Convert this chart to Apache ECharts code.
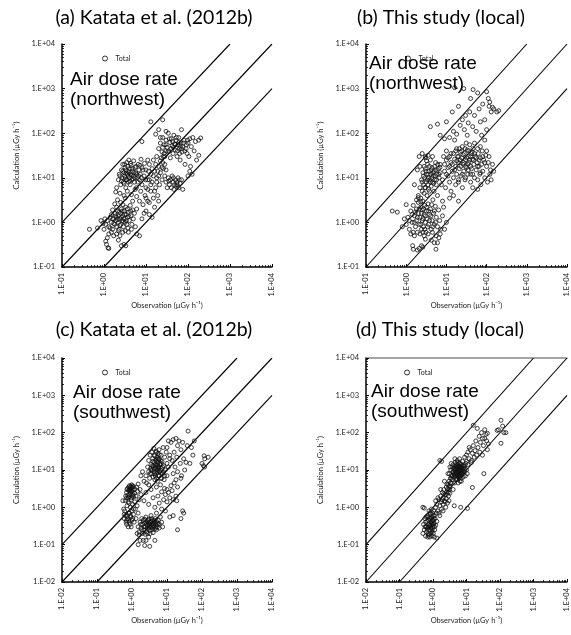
<!DOCTYPE html>
<html>
<head>
<meta charset="utf-8">
<script src="https://cdn.jsdelivr.net/npm/echarts@6/dist/echarts.min.js"></script>
<style>
html,body{margin:0;padding:0;background:#fff;}
#chart{width:571px;height:635px;}
</style>
</head>
<body>
<div id="chart"></div>
<script>
// ---------- Panel titles and annotations ----------
const panelTitles = ['(a) Katata et al. (2012b)', '(b) This study (local)', '(c) Katata et al. (2012b)', '(d) This study (local)'];
const annotations = ['Air dose rate\n(northwest)', 'Air dose rate\n(northwest)', 'Air dose rate\n(southwest)', 'Air dose rate\n(southwest)'];
const seriesName = 'Total';
const xAxisName = 'Observation (\u00b5Gy h\u207b\u00b9)';
const yAxisName = 'Calculation (\u00b5Gy h\u207b\u00b9)';

// tick labels
const tickLabelsTop = ['1.E-01', '1.E+00', '1.E+01', '1.E+02', '1.E+03', '1.E+04'];
const tickLabelsBottom = ['1.E-02', '1.E-01', '1.E+00', '1.E+01', '1.E+02', '1.E+03', '1.E+04'];

// reference lines (1:1, 10x, 1/10x)
const ref11Top = [[0.1, 0.1], [10000, 10000]];
const ref10Top = [[0.1, 1], [1000, 10000]];
const ref01Top = [[1, 0.1], [10000, 1000]];
const ref11Bottom = [[0.01, 0.01], [10000, 10000]];
const ref10Bottom = [[0.01, 0.1], [1000, 10000]];
const ref01Bottom = [[0.1, 0.01], [10000, 1000]];

// (a) Katata et al. northwest [observation, calculation]
const dataA = [
[1.1,0.9],[1.2,1.1],[1.3,0.8],[1.4,1.3],[1.5,1.0],[1.5,1.5],[1.6,0.7],[1.7,1.2],[1.8,0.9],[1.8,1.6],[1.9,1.1],[2.0,1.3],[2.0,0.8],[2.1,1.8],[2.2,1.0],[2.2,1.4],[2.3,0.7],[2.4,1.2],[2.5,1.6],[2.5,0.9],[2.6,2.0],[2.7,1.1],[2.8,1.4],[2.9,0.8],[3.0,1.2],[3.0,1.8],[3.2,1.0],[3.3,2.2],[3.4,1.5],[3.5,0.9],[3.6,1.3],[3.8,1.7],[4.0,1.1],[4.2,2.4],[4.4,1.4],[4.6,0.9],[4.8,1.9],[5.0,1.2],[5.3,1.6],[5.6,0.8],
[1.3,0.55],[1.5,0.6],[1.7,0.5],[2.0,0.55],[2.4,0.5],[2.8,0.6],[3.2,0.65],[3.8,0.6],[4.5,0.7],[1.2,0.45],[1.1,0.38],[1.15,0.32],[1.3,0.26],[1.25,0.27],[2.6,0.3],[3.0,0.32],[3.3,0.3],[2.2,0.4],[6.0,0.55],[7.0,0.5],
[0.45,0.7],[0.7,0.75],[0.85,1.1],[0.95,0.95],[1.0,0.7],[1.05,1.2],
[1.6,1.9],[1.7,0.95],[1.9,1.4],[2.1,1.15],[2.3,1.7],[2.4,0.85],[2.6,1.3],[2.7,1.8],[2.9,1.05],[3.1,1.5],[3.4,1.1],[3.7,0.75],[3.9,1.35],[4.3,1.8],[2.0,2.2],[1.4,0.75],[1.6,1.2],[2.8,2.5],[3.6,2.0],[2.2,0.65],
[2.0,6],[2.2,9],[2.3,12],[2.5,7],[2.6,15],[2.7,10],[2.8,20],[2.9,8],[3.0,13],[3.1,11],[3.2,17],[3.3,6],[3.4,9],[3.5,22],[3.6,12],[3.7,14],[3.8,8],[3.9,25],[4.0,10],[4.1,16],[4.2,7],[4.3,12],[4.4,19],[4.6,9],[4.8,14],[5.0,11],[5.1,24],[5.3,8],[5.5,17],[5.7,13],[5.9,6],[6.2,10],[6.5,20],[6.8,15],[7.0,9],[7.3,12],[7.6,26],[8.0,17],[2.4,4.5],[3.0,4.0],[3.6,5.0],[1.9,4.8],[2.1,3.2],[2.5,2.8],[3.2,3.5],[4.5,4.2],[4.8,3.0],[5.5,5.5],[6.0,3.8],[1.8,2.6],
[2.4,11],[2.6,8.5],[2.8,14],[3.0,7.5],[3.2,10],[3.3,15],[3.4,12.5],[3.5,9],[3.7,18],[3.8,11],[4.0,13],[4.1,8.5],[4.3,21],[4.5,11.5],[4.7,16],[4.9,9.5],[5.2,13],[5.4,10],[5.8,18],[6.0,12],[6.4,8],[6.7,11],[7.2,19],[7.8,10],[8.5,15],[9.2,21],[9.8,9],[11,25],[11.5,14],[3.1,20],
[6,2.0],[7,3.0],[7.5,5],[8,7],[8.5,2.5],[9,11],[9.5,4],[10,15],[10,6],[11,9],[11,3],[12,20],[12,1.5],[13,12],[13,5],[14,8],[15,25],[15,3.5],[16,14],[17,6],[18,30],[18,10],[19,4],[20,18],[21,7],[22,13],[23,28],[24,9],[25,22],[26,16],[27,35],[28,11],[30,40],[14,1.3],[10,1.8],[8,1.2],[16,2.2],[12,2.8],[9,1.6],[20,3],
[10,3.5],[11,5.5],[12,9],[13,7],[14,16],[15,11],[16,5],[17,20],[18,8],[19,14],[20,11],[22,24],[24,17],[26,30],[28,20],[30,15],
[20,45],[22,60],[24,38],[25,80],[27,55],[28,30],[30,70],[32,48],[34,100],[35,40],[37,62],[38,28],[40,75],[42,52],[44,35],[46,90],[48,58],[50,42],[52,68],[55,30],[58,55],[60,80],[62,45],[65,25],[68,60],[70,120],[72,38],[75,50],[80,70],[85,20],[90,45],[95,35],[100,60],[105,30],[110,75],[115,18],[120,50],[130,80],[140,40],[150,65],[160,25],[180,70],[200,78],[180,32],[125,12],
[25,48],[30,55],[33,38],[36,75],[39,45],[43,65],[45,48],[50,55],[53,80],[56,40],[60,62],[63,35],[66,50],[70,45],[78,60],[84,40],[92,55],[98,70],
[30,8],[32,6],[34,10],[36,7],[38,9],[40,6],[42,11],[44,8],[46,5.5],[48,7],[50,9],[52,6.5],[55,8],[58,10],[60,6],[65,7.5],[70,9],[75,5.5],[100,11],[110,14],[35,8.5],[45,10],[55,7],[62,9],
[13,180],[25,200],[20,120],[30,110],[8,65],[17,95],[22,80]
];

// (b) This study northwest
const dataB = [
[1.0,0.9],[1.1,1.3],[1.2,0.7],[1.3,1.8],[1.4,1.0],[1.5,2.4],[1.5,0.6],[1.6,1.4],[1.7,0.8],[1.8,2.0],[1.8,1.1],[1.9,0.6],[2.0,1.6],[2.0,2.8],[2.1,0.9],[2.2,1.3],[2.3,2.2],[2.4,0.7],[2.5,1.1],[2.5,1.9],[2.6,3.0],[2.7,0.8],[2.8,1.5],[2.9,2.4],[3.0,1.0],[3.1,0.6],[3.2,1.8],[3.3,1.2],[3.5,2.6],[3.6,0.9],[3.8,1.5],[4.0,2.0],[4.2,0.7],[4.4,1.1],[4.6,3.2],[4.8,1.6],[5.0,0.9],[5.3,2.3],[5.6,1.3],[6.0,0.8],[6.4,1.9],[6.8,1.1],[7.2,0.7],[8.0,1.4],[1.3,0.55],[1.6,0.5],[2.2,0.55],[2.8,0.5],[3.5,0.55],[4.5,0.6],[5.5,0.5],[7,0.55],[9,0.7],[10,1.0],[8.5,2.2],
[1.7,1.7],[1.9,1.3],[2.1,2.0],[2.3,0.9],[2.4,1.6],[2.6,1.2],[2.7,2.0],[2.9,0.7],[3.0,1.4],[3.2,2.2],[3.4,0.8],[3.6,1.8],[3.8,1.1],[4.1,1.4],[4.3,2.5],[4.6,0.8],[5.0,1.8],[5.4,1.0],[2.0,3.6],[2.3,2.9],[1.6,1.0],[1.4,1.5],[1.2,1.1],[2.6,0.6],
[1.5,0.25],[1.45,0.3],[1.9,0.24],[2.1,0.26],[2.4,0.3],[2.6,0.28],[5.5,0.25],[6.5,0.45],[5.0,0.35],[4.2,0.4],[3.0,0.42],[6.0,0.35],
[0.45,1.8],[0.6,1.7],[0.8,0.8],[1.0,2.5],[0.9,1.2],
[2.0,4],[2.2,6],[2.3,3.5],[2.4,9],[2.5,5],[2.6,13],[2.7,7],[2.8,4.5],[2.9,10],[3.0,16],[3.0,6],[3.1,8],[3.2,12],[3.3,4],[3.4,20],[3.5,7],[3.6,10],[3.7,14],[3.8,5],[3.9,9],[4.0,25],[4.1,12],[4.2,6.5],[4.4,17],[4.5,8],[4.7,11],[4.9,5],[5.0,14],[5.2,9],[5.4,22],[5.6,7],[5.8,12],[6.0,4],[6.3,16],[6.6,10],[7.0,13],[7.5,7],[1.8,3.2],[1.6,7],[2.1,30],[2.5,35],[3.0,28],[1.9,15],[2.2,18],[3.5,32],
[2.5,8],[2.7,11],[2.9,6],[3.1,14],[3.3,9],[3.5,12],[3.6,5.5],[3.8,18],[4.0,8],[4.2,15],[4.3,10],[4.6,13],[4.8,7.5],[5.1,18],[5.3,11],[5.5,15],[5.7,9],[6.1,20],[6.5,12],[6.9,17],[3.2,24],[2.8,18],[4.5,30],
[7,20],[8,9],[8.5,30],[9,14],[9.5,6],[10,25],[10,40],[11,11],[11,17],[12,8],[12,30],[13,22],[13,5],[14,14],[15,35],[15,10],[16,26],[17,7],[17,18],[18,45],[18,12],[19,30],[20,9],[20,22],[21,16],[22,38],[23,11],[24,28],[25,6],[25,50],[26,20],[27,14],[28,35],[29,9],[30,25],[31,60],[32,17],[33,42],[34,12],[35,30],[36,22],[38,55],[40,18],[40,8],[42,35],[44,26],[45,12],[46,45],[48,20],[50,60],[52,30],[8,3],[12,3.5],[15,4],[20,3],
[9,20],[10,12],[11,28],[12,18],[13,35],[14,20],[16,15],[17,40],[18,24],[20,30],[21,45],[22,25],[23,18],[24,40],[26,33],[27,22],[29,45],[30,18],[32,28],[34,20],[36,40],[38,25],[40,30],[42,16],[44,38],[47,25],[50,35],[55,28],[60,45],[65,25],[70,50],[80,30],[90,22],[100,40],
[20,8],[25,12],[30,10],[35,15],[40,12],[50,10],[60,18],[70,13],
[55,15],[58,22],[60,9],[62,35],[65,18],[68,12],[70,28],[72,7],[75,20],[78,40],[80,14],[85,25],[90,10],[95,32],[100,18],[105,8],[110,22],[115,30],[120,12],[125,15],[130,9],[140,20],[150,14],[60,5.5],[45,6],
[6,160],[7,90],[9,75],[10,180],[12,80],[14,300],[15,110],[16,70],[18,95],[20,400],[22,150],[25,200],[28,120],[30,250],[33,90],[35,170],[38,300],[40,600],[45,140],[50,250],[55,110],[60,800],[65,350],[70,180],[75,90],[80,450],[90,200],[100,850],[110,600],[115,400],[120,500],[130,300],[140,380],[150,350],[180,300],[200,320],[90,70],[100,120],
[27,1000],[46,950],[16,1050],[4,140],[3,30]
];

// (c) Katata et al. southwest
const dataC = [
[0.6,0.5],[0.62,0.8],[0.65,1.5],[0.68,0.4],[0.7,2.5],[0.72,1.1],[0.74,0.6],[0.75,3.2],[0.77,1.8],[0.8,0.45],[0.8,2.8],[0.82,1.3],[0.84,0.7],[0.85,3.8],[0.87,2.2],[0.88,0.35],[0.9,1.0],[0.9,3.0],[0.92,0.55],[0.94,2.6],[0.95,1.6],[0.97,4.0],[1.0,0.8],[1.0,3.4],[1.02,2.0],[1.05,0.5],[1.05,1.2],[1.08,2.9],[1.1,0.65],[1.1,3.6],[1.12,1.9],[1.15,0.4],[1.18,2.4],[1.2,1.4],[1.2,3.1],[1.25,0.9],[1.3,2.0],[1.3,0.5],[1.35,3.5],[1.4,1.1],[1.45,2.7],[1.5,0.7],[1.5,4.2],[0.55,1.5],[0.58,0.9],[0.66,2.0],[0.78,0.3],[0.95,0.3],[0.7,0.35],[1.6,1.6],[1.7,3.0],[1.8,2.2],
[0.65,0.6],[0.7,1.8],[0.72,3.0],[0.76,2.1],[0.8,3.5],[0.82,1.9],[0.85,2.9],[0.88,3.3],[0.9,2.4],[0.93,3.6],[0.96,2.8],[0.98,1.8],[1.0,2.6],[1.03,3.8],[1.06,2.2],[0.75,0.5],[0.8,0.7],[0.85,0.4],[0.9,0.6],[0.7,0.45],[0.6,0.65],[1.0,0.45],[1.1,0.9],[0.78,1.4],
[1.5,0.3],[1.6,0.22],[1.7,0.4],[1.8,0.28],[1.9,0.5],[2.0,0.2],[2.0,0.35],[2.1,0.45],[2.2,0.25],[2.3,0.38],[2.4,0.3],[2.5,0.55],[2.6,0.22],[2.7,0.42],[2.8,0.33],[2.9,0.27],[3.0,0.48],[3.1,0.36],[3.2,0.24],[3.3,0.4],[3.4,0.3],[3.5,0.6],[3.6,0.35],[3.8,0.28],[3.9,0.45],[4.0,0.32],[4.2,0.38],[4.4,0.26],[4.6,0.5],[4.8,0.34],[5.0,0.42],[5.3,0.3],[5.6,0.45],[6.0,0.36],[6.5,0.55],[7.0,0.4],[7.5,0.3],[1.4,0.2],[1.6,0.18],[2.4,0.19],[2.8,0.2],[3.3,0.2],[4.0,0.21],[5.0,0.25],[6.0,0.28],
[1.8,0.35],[2.2,0.3],[2.5,0.4],[2.7,0.28],[3.0,0.38],[3.2,0.32],[3.5,0.42],[3.7,0.25],[3.9,0.36],[4.2,0.3],[4.5,0.4],[4.8,0.28],[5.2,0.38],[2.3,0.48],[2.9,0.45],[3.6,0.5],[4.3,0.45],[5.5,0.35],[1.9,0.25],[2.6,0.35],
[1.5,0.1],[1.7,0.13],[2.1,0.13],[2.5,0.13],[2.3,0.095],[3.2,0.09],[4.5,0.13],[3.0,0.16],[20,0.25],[25,0.5],[30,0.7],[28,0.8],[12,0.55],[15,0.6],
[2.5,7],[2.8,12],[3.0,9],[3.0,18],[3.2,6],[3.3,25],[3.4,11],[3.5,14],[3.6,8],[3.7,30],[3.8,10],[3.9,20],[4.0,6.5],[4.1,13],[4.2,38],[4.3,9],[4.4,16],[4.5,24],[4.6,7],[4.7,11],[4.8,19],[4.9,32],[5.0,8],[5.1,14],[5.2,22],[5.3,5],[5.4,10],[5.5,28],[5.6,16],[5.7,7],[5.8,12],[5.9,35],[6.0,20],[6.2,9],[6.4,14],[6.6,6],[6.8,25],[7.0,11],[7.2,17],[7.5,8],[7.8,40],[8.0,13],[8.3,5.5],[8.6,22],[9.0,10],[9.5,30],[10,15],[10,7],[11,12],[12,20],[2.2,5],[2.6,4.5],[2.0,9],[1.8,7],[3.0,4],
[3.5,10],[3.8,13],[4.0,17],[4.2,11],[4.4,8],[4.6,14],[4.8,12],[5.0,17],[5.2,9],[5.4,13],[5.6,11],[5.8,19],[6.0,9.5],[6.2,14],[6.5,10],[6.8,15],[7.0,8],[4.3,25],[5.0,30],[5.5,20],[6.0,26],[6.5,18],[7.5,12],[8,9],[4.5,5.5],[5.0,6],[6,7],[7,6],[8.5,7],[3.3,8],
[2.2,1.5],[2.5,2.5],[3.0,1.2],[3.5,3.0],[4.0,1.8],[4.5,1.0],[5.0,3.5],[5.5,2.0],[6.0,1.3],[6.5,4.0],[7.0,2.6],[8.0,1.6],[8.5,3.2],[9.0,2.2],[10,1.4],[10,3.0],[11,2.5],[12,1.8],[13,3.8],[14,2.8],[15,1.6],[16,4.5],[18,2.0],[19,1.5],[20,3.5],[7,0.9],[9,0.8],[5,0.7],
[10,40],[11,60],[12,25],[13,55],[14,18],[15,65],[16,30],[17,12],[18,70],[19,22],[20,9],[20,45],[22,60],[24,15],[25,35],[26,7],[28,55],[30,20],[32,10],[35,16],[38,45],[40,110],[45,15],[50,40],[55,25],[60,60],[25,6],[18,5.5],[15,8],
[100,15],[110,13],[115,24],[120,20],[150,22],[118,12]
];

// (d) This study southwest
const dataD = [
[0.5,0.2],[0.52,0.35],[0.55,0.25],[0.57,0.5],[0.6,0.17],[0.62,0.3],[0.64,0.22],[0.66,0.42],[0.68,0.6],[0.7,0.28],[0.72,0.18],[0.74,0.36],[0.76,0.8],[0.78,0.25],[0.8,0.5],[0.8,0.16],[0.82,0.32],[0.84,0.65],[0.86,0.2],[0.88,0.4],[0.9,0.9],[0.9,0.27],[0.92,0.55],[0.94,0.17],[0.95,0.35],[0.97,0.7],[1.0,0.3],[1.0,0.45],[1.02,0.2],[1.05,0.8],[1.08,0.38],[1.1,0.6],[1.12,0.25],[1.15,0.5],[1.2,0.33],[1.2,1.0],[1.25,0.7],[1.3,0.42],[1.3,0.15],[0.7,0.16],[0.5,1.0],[0.55,0.95],[1.1,0.16],[0.95,0.25],[0.75,0.3],
[0.6,0.4],[0.65,0.3],[0.7,0.55],[0.72,0.2],[0.75,0.45],[0.8,0.35],[0.82,0.7],[0.85,0.28],[0.87,0.5],[0.9,0.38],[0.93,0.22],[0.96,0.45],[1.0,0.6],[1.03,0.35],[1.06,0.5],[1.1,0.3],[0.68,0.26],[0.78,0.19],[0.58,0.3],[0.62,0.55],
[1.3,1.2],[1.4,0.8],[1.5,1.6],[1.5,0.7],[1.6,1.1],[1.7,2.0],[1.8,1.4],[1.8,0.9],[1.9,2.5],[2.0,1.2],[2.0,1.8],[2.1,3.0],[2.2,1.5],[2.3,2.2],[2.4,1.0],[2.5,3.5],[2.5,1.7],[2.6,2.6],[2.7,1.3],[2.8,4.0],[2.9,2.0],[3.0,3.0],[3.0,1.5],[1.6,0.6],[1.4,1.8],[1.7,3.0],[2.2,5],[2.0,0.8],[1.2,1.5],[3.2,2.4],
[1.9,1.6],[2.1,2.3],[2.3,1.4],[2.5,2.2],[2.7,3.1],[2.9,2.6],[3.1,3.8],[3.3,4.5],[3.5,6],[2.6,4.2],
[3.0,5],[3.1,8],[3.2,3.5],[3.3,6],[3.4,10],[3.5,4.5],[3.6,7],[3.7,12],[3.8,5.5],[3.9,9],[4.0,3],[4.0,14],[4.1,6.5],[4.2,8],[4.3,11],[4.4,4.5],[4.5,7],[4.6,16],[4.7,9],[4.8,5.5],[4.9,12],[5.0,8],[5.1,6],[5.2,10],[5.3,18],[5.4,7],[5.5,13],[5.6,4.5],[5.7,9],[5.8,11],[5.9,6.5],[6.0,15],[6.1,8],[6.2,20],[6.3,10],[6.4,5],[6.5,12],[6.6,7],[6.8,9],[7.0,14],[7.0,6],[7.2,11],[7.4,8],[7.6,17],[7.8,10],[8.0,6.5],[8.2,13],[8.5,9],[8.8,22],[9.0,11],[9.3,7],[9.6,15],[10,10],[10,25],[10.5,8],[11,14],[3.5,15],[2.8,8],[4.5,20],[3.2,12],
[3.8,7],[4.0,9],[4.2,11],[4.4,7.5],[4.6,10],[4.8,8],[5.0,11],[5.2,8.5],[5.4,12],[5.6,9.5],[5.8,7.5],[6.0,10],[6.2,12.5],[6.4,8.5],[6.6,11],[6.8,7],[7.0,9.5],[7.3,12],[7.6,8],[8.0,11],[8.4,9],[5.0,14],[5.5,16],[6.5,15],[7.5,13],[4.5,12.5],[5.2,5.5],[6.0,6],[7,5],[8.8,13],
[11,30],[12,20],[13,35],[14,16],[15,28],[16,45],[17,22],[18,33],[19,60],[20,25],[22,40],[24,80],[25,30],[26,55],[28,100],[30,70],[32,45],[35,120],[38,90],[40,60],[42,35],[45,50],[12,40],[10,17],[14,18],
[1.6,18],[1.8,17],[4.3,1.1],[6.7,1.0],[10.7,0.94],[15,3.4],[33,8],[30,25],[21,130],[16,158],[35,70],[42,96],[82,115],[107,215],[107,52],[130,100],[120,150],[90,120],[150,100]
];

const panelData = [dataA, dataB, dataC, dataD];

// ---------- layout ----------
const grids = [
  {left: 62, top: 44, width: 210, height: 223},
  {left: 366, top: 44, width: 210, height: 223},
  {left: 62, top: 358, width: 210, height: 224},
  {left: 366, top: 358, width: 210, height: 224}
];
const titlePos = [[154, 18], [441, 18], [154, 330], [440, 330]];
const annoPos = [[70, 70], [369, 54], [73, 383], [371, 382]];
const legendPos = [[102, 55], [405, 55], [102, 369], [404, 369]];

const smallFont = 'Lato, "Open Sans", sans-serif';

function fmt(labels, minExp) {
  return function (v) {
    const i = Math.round(Math.log10(v)) - minExp;
    return labels[i] !== undefined ? labels[i] : '';
  };
}

const xAxes = [], yAxes = [], series = [], legends = [], graphics = [];
for (let p = 0; p < 4; p++) {
  const bottom = p >= 2;
  const minV = bottom ? 0.01 : 0.1;
  const labels = bottom ? tickLabelsBottom : tickLabelsTop;
  const minExp = bottom ? -2 : -1;
  const common = {
    type: 'log', logBase: 10, min: minV, max: 10000, gridIndex: p,
    axisLine: {show: true, onZero: false, lineStyle: {color: '#000', width: 1.5}},
    axisTick: {show: true, inside: true, length: 3, lineStyle: {color: '#000', width: 1}},
    minorTick: {show: true, splitNumber: 9, length: 2, lineStyle: {color: '#000', width: 0.8}},
    splitLine: {show: false},
    nameTextStyle: {fontFamily: smallFont, fontSize: 7.5, color: '#222'},
    axisLabel: {fontFamily: smallFont, fontSize: 7.5, color: '#222', formatter: fmt(labels, minExp)}
  };
  xAxes.push(Object.assign({}, common, {
    position: 'bottom',
    name: xAxisName, nameLocation: 'middle', nameGap: 35,
    axisLabel: Object.assign({}, common.axisLabel, {rotate: 90, margin: 6})
  }));
  yAxes.push(Object.assign({}, common, {
    position: 'left',
    name: yAxisName, nameLocation: 'middle', nameGap: 41, nameRotate: 90,
    axisLabel: Object.assign({}, common.axisLabel, {margin: 7})
  }));
  const xi = xAxes.length - 1, yi = yAxes.length - 1;
  if (p === 3) {
    xAxes.push({
      type: 'log', logBase: 10, min: minV, max: 10000, gridIndex: p, position: 'top',
      axisLine: {show: true, lineStyle: {color: '#888', width: 1.5}},
      axisTick: {show: false}, axisLabel: {show: false}, splitLine: {show: false}
    });
  }
  const refs = bottom ? [ref11Bottom, ref10Bottom, ref01Bottom] : [ref11Top, ref10Top, ref01Top];
  refs.forEach(function (r) {
    series.push({
      type: 'line', xAxisIndex: xi, yAxisIndex: yi, data: r, symbol: 'none', silent: true,
      lineStyle: {color: '#000', width: 1.1}, z: 1, clip: true
    });
  });
  series.push({
    name: seriesName, type: 'scatter', xAxisIndex: xi, yAxisIndex: yi, data: panelData[p],
    symbol: 'circle', symbolSize: 4,
    itemStyle: {color: 'rgba(255,255,255,0)', borderColor: '#111', borderWidth: 1},
    z: 2
  });
  legends.push({
    data: [{name: seriesName, icon: 'circle', itemStyle: {color: 'rgba(255,255,255,0)', borderColor: '#000', borderWidth: 1}}],
    left: legendPos[p][0], top: legendPos[p][1], itemWidth: 5, itemHeight: 5, itemGap: 4,
    padding: 0, selectedMode: false,
    textStyle: {fontFamily: smallFont, fontSize: 7, color: '#222', padding: [0, 0, 0, 3]}
  });
  graphics.push({
    type: 'text', x: titlePos[p][0], y: titlePos[p][1], z: 100,
    style: {text: panelTitles[p], font: '19.5px Lato, "Open Sans", sans-serif', fill: '#000', align: 'center', verticalAlign: 'middle'}
  });
  graphics.push({
    type: 'text', x: annoPos[p][0], y: annoPos[p][1], z: 100,
    style: {text: annotations[p], font: '19px "Liberation Sans", Arial, sans-serif', fill: '#000', align: 'left', verticalAlign: 'top', lineHeight: 20}
  });
}

const chart = echarts.init(document.getElementById('chart'), null, {renderer: 'canvas'});
chart.setOption({
  backgroundColor: '#fff',
  animation: false,
  grid: grids,
  xAxis: xAxes,
  yAxis: yAxes,
  legend: legends,
  series: series,
  graphic: graphics
});
</script>
</body>
</html>
